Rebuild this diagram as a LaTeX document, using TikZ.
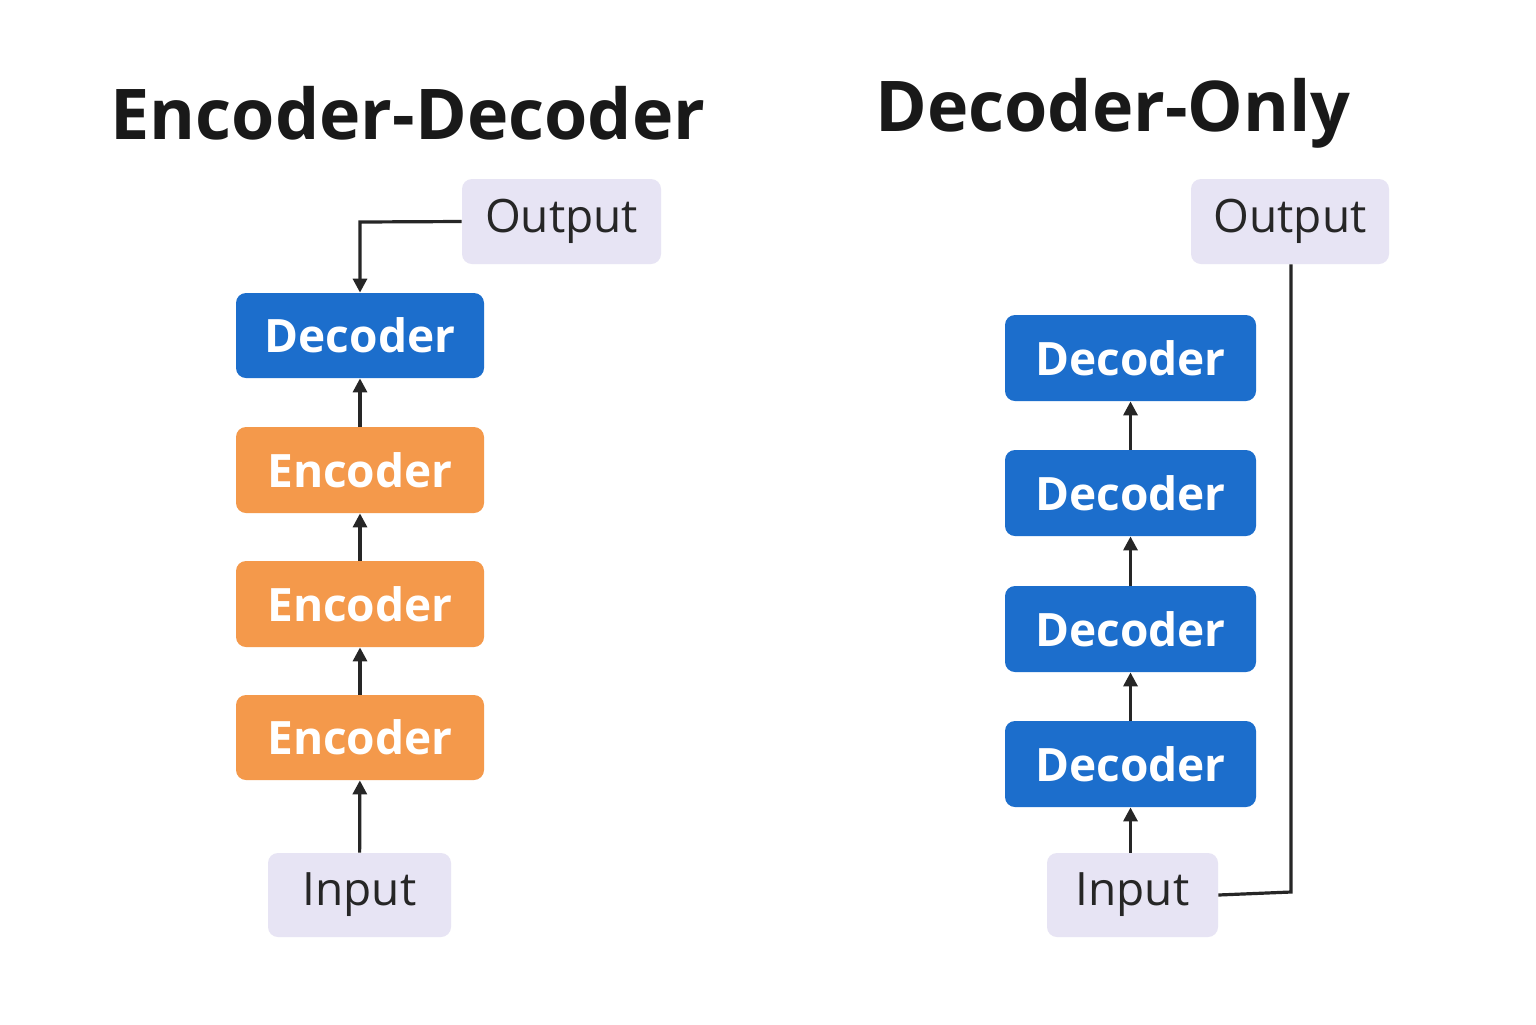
\documentclass[tikz,border=0pt]{standalone}
\usepackage{fontspec}
\setmainfont{Open Sans}
\usetikzlibrary{arrows.meta}
\definecolor{blu}{HTML}{1C6ECC}
\definecolor{ora}{HTML}{F4994B}
\definecolor{lav}{HTML}{E7E4F4}
\begin{document}
\begin{tikzpicture}[x=0.5pt,y=-0.5pt,
 box/.style={rounded corners=5pt,inner sep=0pt,font=\fontsize{23}{26}\selectfont\bfseries},
 bl/.style={box,fill=blu,text=white},
 or/.style={box,fill=ora,text=white},
 lv/.style={box,fill=lav,text=black!85,font=\fontsize{23}{26}\selectfont},
 ar/.style={line width=1.6pt,draw=black!85,-{Triangle[length=7pt,width=7pt]}},
 ln/.style={line width=1.6pt,draw=black!85},
 ttl/.style={font=\fontsize{35}{40}\selectfont\bfseries,text=black!90}]
\fill[white] (0,0) rectangle (1536,1024);
\node[ttl] (t1) at (408,113) {Encoder-Decoder};
\node[ttl] (t2) at (1113,113) {Decoder-Only};
% left
\node[lv,minimum width=99.5pt,minimum height=42.5pt] (lo) at (561.5,221.5) {Output};
\node[bl,minimum width=124pt,minimum height=42.5pt] (ld) at (360,335.5) {Decoder};
\node[or,minimum width=124pt,minimum height=43pt] (le3) at (360,470) {Encoder};
\node[or,minimum width=124pt,minimum height=43pt] (le2) at (360,604) {Encoder};
\node[or,minimum width=124pt,minimum height=42.5pt] (le1) at (360,737.5) {Encoder};
\node[lv,minimum width=91.5pt,minimum height=42pt] (li) at (359.5,895) {Input};
\coordinate (lc) at (360,222);
\draw[ar] (lo.west) -- (lc) -- (ld.north);
\draw[ar] (le3) -- (ld);
\draw[ar] (le2) -- (le3);
\draw[ar] (le1) -- (le2);
\draw[ar] (li) -- (le1);
% right
\node[lv,minimum width=99pt,minimum height=42.5pt] (ro) at (1290,221.5) {Output};
\node[bl,minimum width=125.5pt,minimum height=43pt] (rd4) at (1130.5,358) {Decoder};
\node[bl,minimum width=125.5pt,minimum height=43pt] (rd3) at (1130.5,493) {Decoder};
\node[bl,minimum width=125.5pt,minimum height=43pt] (rd2) at (1130.5,629) {Decoder};
\node[bl,minimum width=125.5pt,minimum height=43pt] (rd1) at (1130.5,764) {Decoder};
\node[lv,minimum width=85.5pt,minimum height=42pt] (ri) at (1132.5,895) {Input};
\draw[ar] (rd3) -- (rd4);
\draw[ar] (rd2) -- (rd3);
\draw[ar] (rd1) -- (rd2);
\draw[ar] (ri.north -| rd1) -- (rd1);
\coordinate (rc) at (1291,892);
\draw[ln] (ri.east) -- (rc) -- (ro.south -| rc);
\end{tikzpicture}
\end{document}
